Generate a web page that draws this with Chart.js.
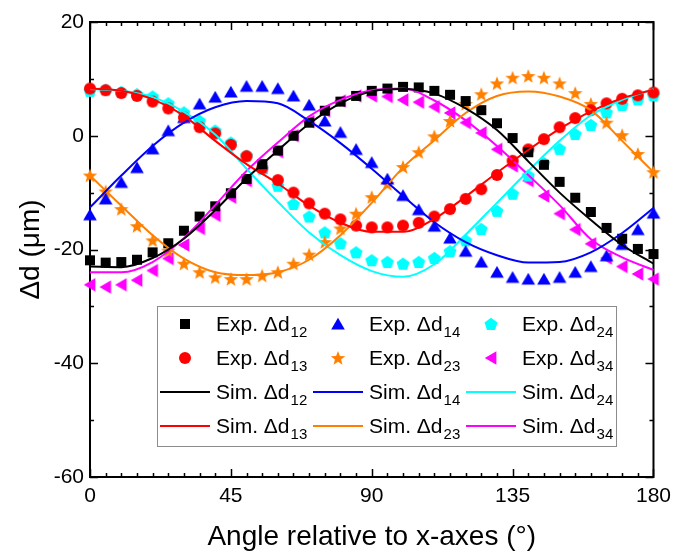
<!DOCTYPE html>
<html>
<head>
<meta charset="utf-8">
<script src="https://cdn.jsdelivr.net/npm/chart.js@4.4.1/dist/chart.umd.min.js"></script>
<style>
  html, body { margin: 0; padding: 0; background: #fff; }
  #chart { display: block; }
</style>
</head>
<body>
<canvas id="chart" width="678" height="556"></canvas>
<script>
// measured angles (deg) for the experimental points
const angles = [0, 5, 10, 15, 20, 25, 30, 35, 40, 45, 50, 55, 60, 65, 70, 75, 80, 85, 90,
  95, 100, 105, 110, 115, 120, 125, 130, 135, 140, 145, 150, 155, 160, 165, 170, 175, 180];
// angles for the simulated curves
const simAngles = [0, 10, 20, 30, 40, 50, 60, 70, 80, 90, 100, 110, 120, 130, 140, 150, 160, 170, 180];

const expD12 = [-21.9, -22.3, -22.2, -21.8, -20.5, -18.9, -16.7, -14.2, -12.4, -10.1, -7.6, -5.0, -2.6, 0.0, 2.3, 4.4, 6.0, 7.0, 7.9,
  8.3, 8.6, 8.5, 7.9, 7.2, 6.1, 4.5, 2.2, -0.4, -2.9, -5.1, -8.1, -10.9, -13.4, -16.2, -18.1, -19.9, -20.8];
const expD13 = [8.3, 8.0, 7.5, 7.0, 6.0, 4.8, 3.2, 1.5, 0.4, -1.6, -3.6, -5.7, -7.8, -10.0, -11.9, -13.7, -14.7, -15.8, -16.1,
  -16.1, -15.8, -15.3, -14.2, -12.9, -11.1, -9.4, -6.9, -4.4, -2.4, -0.6, 1.5, 3.1, 4.5, 5.7, 6.5, 7.1, 7.6];
const expD14 = [-13.9, -11.1, -8.2, -5.6, -2.3, 0.9, 3.2, 5.6, 6.8, 7.7, 8.7, 8.7, 8.3, 7.0, 5.4, 2.6, 0.6, -2.4, -4.7,
  -7.6, -10.5, -13.0, -15.9, -18.0, -20.3, -22.2, -24.0, -24.9, -25.2, -25.2, -24.9, -24.0, -23.0, -21.1, -19.1, -16.5, -13.6];
const expD23 = [-7.0, -9.8, -12.9, -15.9, -18.4, -20.2, -22.5, -24.0, -24.9, -25.2, -25.2, -24.6, -24.0, -22.5, -20.9, -18.7, -16.3, -13.7, -10.8,
  -8.5, -5.5, -2.9, -0.1, 2.6, 5.6, 7.3, 9.2, 10.2, 10.5, 10.2, 9.2, 7.5, 5.6, 2.3, 0.1, -3.2, -6.4];
const expD24 = [7.9, 8.1, 7.7, 7.3, 6.9, 5.7, 4.1, 2.6, 0.9, -1.2, -3.5, -5.8, -8.8, -12.0, -14.2, -17.0, -18.9, -20.5, -21.9,
  -22.2, -22.5, -22.2, -21.5, -20.3, -18.4, -16.4, -13.2, -10.2, -7.0, -4.8, -2.3, 0.3, 1.9, 4.1, 5.4, 6.4, 7.1];
const expD34 = [-26.2, -26.6, -26.2, -25.4, -23.7, -21.6, -19.2, -16.3, -14.0, -10.8, -7.9, -5.6, -2.8, 0.0, 2.5, 4.4, 6.1, 7.0, 7.0,
  6.9, 6.3, 5.9, 5.1, 4.0, 2.3, 0.5, -2.4, -5.3, -7.9, -10.6, -13.7, -16.5, -19.0, -21.5, -23.0, -24.3, -25.2];

const simD12 = [-23.0, -23.1, -21.5, -18.1, -13.1, -7.5, -2.6, 2.1, 5.7, 7.8, 8.2, 7.4, 4.8, 1.0, -4.5, -10.0, -14.8, -19.2, -22.5];
const simD13 = [8.3, 7.9, 6.4, 3.5, -0.9, -5.0, -8.4, -12.3, -15.3, -16.9, -16.9, -14.6, -10.7, -6.5, -2.5, 1.2, 4.3, 6.6, 8.1];
const simD14 = [-12.6, -7.0, -1.8, 2.3, 5.0, 6.1, 5.7, 2.6, -1.3, -5.8, -10.6, -15.2, -18.7, -21.0, -22.3, -22.2, -20.5, -17.1, -12.7];
const simD23 = [-7.0, -12.3, -17.5, -21.6, -24.0, -24.5, -24.0, -21.8, -17.5, -11.8, -5.6, -0.8, 4.0, 7.0, 7.8, 6.9, 4.5, -0.9, -6.4];
const simD24 = [8.2, 7.9, 6.8, 4.2, 0.2, -5.8, -11.6, -17.0, -21.0, -23.8, -24.8, -22.6, -17.4, -11.8, -6.2, -0.9, 3.6, 6.3, 8.2];
const simD34 = [-24.0, -24.0, -22.2, -18.0, -12.2, -6.2, -1.2, 3.4, 6.3, 8.0, 8.3, 6.2, 2.7, -1.8, -6.9, -12.2, -18.2, -21.4, -23.6];

const xTicks = [0, 45, 90, 135, 180];
const yTicks = [-60, -40, -20, 0, 20];
const pairs = ['12', '13', '14', '23', '24', '34'];

const colours = { '12': '#000000', '13': '#ff0000', '14': '#0000ff', '23': '#ff8000', '24': '#00ffff', '34': '#ff00ff' };
const FONT = "'Liberation Sans', Arial, Helvetica, sans-serif";

// marker glyphs, drawn once into small canvases and used as pointStyle
function makeMarker(shape, colour) {
  const size = 18;
  const c = document.createElement('canvas');
  c.width = size; c.height = size;
  const g = c.getContext('2d');
  g.fillStyle = colour;
  g.translate(size / 2, size / 2);
  g.beginPath();
  if (shape === 'square') {
    g.rect(-5, -5, 10, 10);
  } else if (shape === 'circle') {
    g.arc(0, 0, 6, 0, Math.PI * 2);
  } else if (shape === 'up') {
    g.moveTo(0, -6.2); g.lineTo(6.8, 5.4); g.lineTo(-6.8, 5.4);
  } else if (shape === 'left') {
    g.moveTo(-6.2, 0); g.lineTo(5.4, -6.8); g.lineTo(5.4, 6.8);
  } else if (shape === 'star') {
    for (let i = 0; i < 10; i++) {
      const r = i % 2 === 0 ? 7.6 : 3.2;
      const t = -Math.PI / 2 + i * Math.PI / 5;
      g.lineTo(r * Math.cos(t), r * Math.sin(t) + 0.6);
    }
  } else if (shape === 'pent') {
    for (let i = 0; i < 5; i++) {
      const t = -Math.PI / 2 + i * 2 * Math.PI / 5;
      g.lineTo(6.8 * Math.cos(t), 6.8 * Math.sin(t) + 0.6);
    }
  }
  g.closePath();
  g.fill();
  return c;
}

const shapes = { '12': 'square', '13': 'circle', '14': 'up', '23': 'star', '24': 'pent', '34': 'left' };
const markers = {};
pairs.forEach(p => { markers[p] = makeMarker(shapes[p], colours[p]); });

const expSeries = { '12': expD12, '13': expD13, '14': expD14, '23': expD23, '24': expD24, '34': expD34 };
const simSeries = { '12': simD12, '13': simD13, '14': simD14, '23': simD23, '24': simD24, '34': simD34 };

const datasets = [];
pairs.forEach(p => {
  datasets.push({
    label: 'Exp. Δd' + p,
    pair: p, kind: 'exp',
    data: angles.map((a, i) => ({ x: a, y: expSeries[p][i] })),
    pointStyle: markers[p],
    pointRadius: 6,
    showLine: false,
    clip: false,
    order: 2
  });
});
pairs.forEach(p => {
  datasets.push({
    label: 'Sim. Δd' + p,
    pair: p, kind: 'sim',
    data: simAngles.map((a, i) => ({ x: a, y: simSeries[p][i] })),
    showLine: true,
    borderColor: colours[p],
    borderWidth: 2,
    pointRadius: 0,
    cubicInterpolationMode: 'monotone',
    clip: false,
    order: 1
  });
});

// legend grid: rows of [kind, pair]
const legendRows = [
  [['exp', '12'], ['exp', '14'], ['exp', '24']],
  [['exp', '13'], ['exp', '23'], ['exp', '34']],
  [['sim', '12'], ['sim', '14'], ['sim', '24']],
  [['sim', '13'], ['sim', '23'], ['sim', '34']]
];

const frameTicks = {
  id: 'frameTicks',
  beforeDatasetsDraw(chart) {
    const { ctx, chartArea: a, scales: { x, y } } = chart;
    ctx.save();
    ctx.strokeStyle = '#000';
    ctx.lineWidth = 2;
    ctx.strokeRect(a.left, a.top, a.right - a.left, a.bottom - a.top);
    ctx.lineWidth = 1.5;
    ctx.beginPath();
    for (let v = 0; v <= 180; v += 5) {
      const px = Math.round(x.getPixelForValue(v)) + 0.5;
      const len = xTicks.includes(v) ? 8 : 4;
      ctx.moveTo(px, a.bottom); ctx.lineTo(px, a.bottom - len);
      ctx.moveTo(px, a.top); ctx.lineTo(px, a.top + len);
    }
    for (let v = -60; v <= 20; v += 10) {
      const py = Math.round(y.getPixelForValue(v)) + 0.5;
      const len = yTicks.includes(v) ? 8 : 4;
      ctx.moveTo(a.left, py); ctx.lineTo(a.left + len, py);
      ctx.moveTo(a.right, py); ctx.lineTo(a.right - len, py);
    }
    ctx.stroke();
    ctx.restore();
  }
};

const boxLegend = {
  id: 'boxLegend',
  afterDraw(chart) {
    const { ctx, chartArea: a } = chart;
    const left = a.left + 67, top = a.top + 284, w = 459, h = 140;
    ctx.save();
    ctx.fillStyle = '#fff';
    ctx.fillRect(left, top, w, h);
    ctx.strokeStyle = '#8c8c8c';
    ctx.lineWidth = 1;
    ctx.strokeRect(left + 0.5, top + 0.5, w, h);
    const colW = 153, rowH = 34;
    legendRows.forEach((row, r) => {
      row.forEach(([kind, p], c) => {
        const cy = top + 18 + r * rowH;
        const x0 = left + 3 + c * colW;
        if (kind === 'exp') {
          const m = markers[p];
          ctx.drawImage(m, x0 + 25 - m.width / 2, cy - m.height / 2);
        } else {
          ctx.strokeStyle = colours[p];
          ctx.lineWidth = 2;
          ctx.beginPath();
          ctx.moveTo(x0, cy); ctx.lineTo(x0 + 50, cy);
          ctx.stroke();
        }
        const ds = chart.data.datasets.find(d => d.kind === kind && d.pair === p);
        const main = ds.label.slice(0, -2);
        ctx.fillStyle = '#000';
        ctx.textBaseline = 'alphabetic';
        ctx.font = '21px ' + FONT;
        const tx = x0 + 56;
        ctx.fillText(main, tx, cy + 7);
        const mw = ctx.measureText(main).width;
        ctx.font = '15px ' + FONT;
        ctx.fillText(p, tx + mw + 1, cy + 13);
      });
    });
    ctx.restore();
  }
};

Chart.defaults.font.family = FONT;
Chart.defaults.color = '#000';

new Chart(document.getElementById('chart'), {
  type: 'scatter',
  data: { datasets },
  options: {
    responsive: false,
    animation: false,
    layout: { padding: { left: 0, right: 18, top: 22, bottom: 0 } },
    plugins: { legend: { display: false }, tooltip: { enabled: false } },
    scales: {
      x: {
        type: 'linear', min: 0, max: 180,
        afterBuildTicks: s => { s.ticks = xTicks.map(v => ({ value: v })); },
        afterFit: s => { s.height = 79; },
        grid: { display: false, drawTicks: false },
        border: { display: false },
        ticks: { font: { size: 21 }, color: '#000', padding: 7, maxRotation: 0 },
        title: { display: true, text: 'Angle relative to x-axes (°)', font: { size: 28 }, color: '#000', padding: { top: 0, bottom: 2 } }
      },
      y: {
        type: 'linear', min: -60, max: 20,
        afterBuildTicks: s => { s.ticks = yTicks.map(v => ({ value: v })); },
        afterFit: s => { s.width = 90; },
        grid: { display: false, drawTicks: false },
        border: { display: false },
        ticks: { font: { size: 21 }, color: '#000', padding: 6 },
        title: { display: true, text: 'Δd (μm)', font: { size: 28 }, color: '#000', padding: { top: 14, bottom: 0 } }
      }
    }
  },
  plugins: [frameTicks, boxLegend]
});
</script>
</body>
</html>
